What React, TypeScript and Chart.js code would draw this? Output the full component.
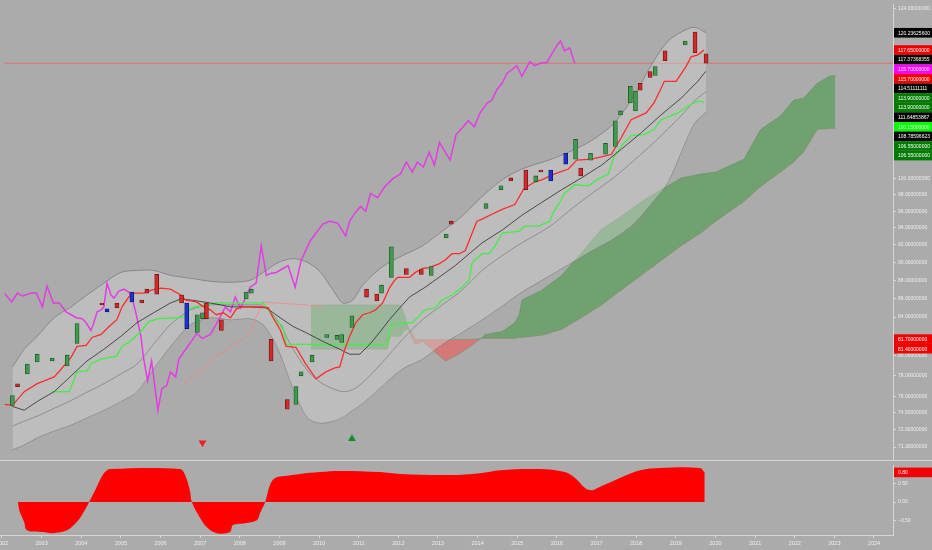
import React, { useEffect, useRef } from 'react';
import { Chart, registerables } from 'chart.js';

Chart.register(...registerables);

const BG = '#ababab';
const FONT = 'Liberation Sans';
Chart.defaults.font.family = FONT;

const X_MIN = 2001.95;
const X_MAX = 2024.48;
const PRICE_MIN = 70.1;
const PRICE_MAX = 124.6;

const yearTicks = [2002, 2003, 2004, 2005, 2006, 2007, 2008, 2009, 2010, 2011, 2012, 2013, 2014, 2015, 2016, 2017, 2018, 2019, 2020, 2021, 2022, 2023, 2024];
const priceTicks = [124, 100, 98, 96, 94, 92, 90, 88, 86, 84, 80, 78, 76, 74.5, 72.9, 71.3];
const oscTicks = [0.5, 0, -0.5];

// Candles
const candleX = [2002.15, 2002.28, 2002.53, 2002.78, 2003.16, 2003.54, 2003.79, 2004.42, 2004.55, 2004.80, 2005.18, 2005.43, 2005.56, 2005.81, 2006.44, 2006.57, 2006.84, 2006.97, 2007.07, 2007.45, 2008.08, 2008.21, 2008.71, 2009.12, 2009.34, 2009.47, 2009.75, 2010.12, 2010.38, 2010.50, 2010.76, 2011.13, 2011.39, 2011.51, 2011.76, 2012.14, 2012.52, 2012.77, 2013.15, 2013.28, 2014.16, 2014.54, 2014.79, 2015.17, 2015.42, 2015.55, 2015.80, 2016.18, 2016.43, 2016.56, 2016.81, 2017.19, 2017.44, 2017.57, 2017.82, 2017.95, 2018.07, 2018.32, 2018.45, 2018.70, 2019.21, 2019.46, 2019.74];
const candleOpen = [75.15, 77.23, 78.19, 79.37, 79.47, 78.97, 81.26, 85.51, 84.88, 85.51, 86.69, 85.83, 87.01, 88.65, 86.37, 85.51, 82.38, 83.83, 85.51, 83.72, 85.94, 86.58, 81.67, 75.71, 75.24, 78.00, 79.37, 81.87, 81.67, 81.36, 82.90, 87.01, 86.47, 86.58, 88.32, 89.31, 89.20, 88.54, 92.82, 94.80, 96.34, 98.65, 100.12, 101.12, 99.63, 101.12, 101.12, 103.28, 102.51, 101.37, 102.39, 103.15, 104.18, 108.41, 110.04, 108.95, 112.81, 114.50, 113.93, 117.53, 118.41, 120.34, 117.09];
const candleClose = [76.08, 76.94, 79.17, 80.16, 79.77, 80.06, 83.31, 85.30, 84.56, 84.98, 85.62, 85.51, 86.58, 86.47, 85.51, 82.79, 84.25, 84.46, 83.83, 82.59, 86.69, 87.01, 79.47, 74.78, 76.94, 78.39, 80.06, 82.18, 82.08, 82.18, 84.14, 86.15, 85.72, 87.45, 91.79, 88.65, 88.65, 89.53, 93.28, 94.45, 96.94, 99.13, 99.75, 98.65, 100.37, 100.87, 99.75, 101.88, 105.10, 100.37, 103.28, 104.57, 107.61, 108.95, 112.39, 111.69, 111.83, 113.65, 115.21, 116.07, 118.99, 117.24, 115.70];
const candleKind = ['g', 'r', 'g', 'g', 'g', 'g', 'g', 'r', 'b', 'r', 'b', 'r', 'r', 'r', 'r', 'b', 'g', 'g', 'r', 'r', 'g', 'g', 'r', 'r', 'g', 'g', 'g', 'g', 'g', 'g', 'g', 'r', 'r', 'g', 'g', 'r', 'r', 'g', 'g', 'r', 'g', 'g', 'r', 'r', 'g', 'r', 'b', 'b', 'g', 'r', 'g', 'g', 'g', 'g', 'g', 'g', 'r', 'r', 'g', 'r', 'g', 'r', 'r'];

// Lagging line (magenta)
const magentaX = [2001.95, 2002.13, 2002.28, 2002.40, 2002.63, 2002.76, 2002.91, 2003.03, 2003.19, 2003.34, 2003.51, 2003.64, 2003.77, 2003.92, 2004.02, 2004.14, 2004.20, 2004.30, 2004.40, 2004.47, 2004.55, 2004.65, 2004.73, 2004.85, 2004.98, 2005.10, 2005.18, 2005.28, 2005.41, 2005.48, 2005.58, 2005.68, 2005.84, 2005.94, 2006.06, 2006.16, 2006.29, 2006.37, 2006.49, 2006.69, 2006.82, 2006.97, 2007.17, 2007.30, 2007.42, 2007.55, 2007.68, 2007.80, 2007.93, 2008.05, 2008.18, 2008.33, 2008.46, 2008.59, 2008.69, 2008.84, 2009.01, 2009.14, 2009.32, 2009.47, 2009.70, 2009.85, 2010.02, 2010.20, 2010.40, 2010.60, 2010.70, 2010.83, 2010.98, 2011.11, 2011.23, 2011.41, 2011.59, 2011.79, 2011.99, 2012.14, 2012.29, 2012.42, 2012.57, 2012.72, 2012.85, 2012.98, 2013.13, 2013.25, 2013.40, 2013.56, 2013.71, 2013.86, 2014.01, 2014.19, 2014.31, 2014.44, 2014.57, 2014.69, 2014.82, 2014.94, 2015.07, 2015.27, 2015.40, 2015.57, 2015.70, 2015.83, 2015.95, 2016.05, 2016.15, 2016.28, 2016.41];
const magentaY = [86.58, 85.62, 86.58, 86.26, 86.58, 86.58, 85.09, 87.34, 85.51, 85.51, 84.56, 84.25, 83.93, 83.83, 83.41, 82.59, 83.21, 84.56, 84.77, 85.09, 87.67, 86.37, 86.04, 86.80, 87.01, 86.69, 86.15, 84.46, 81.98, 79.67, 77.52, 79.47, 74.69, 76.75, 77.04, 78.39, 77.90, 79.67, 80.36, 81.47, 82.28, 81.77, 82.18, 83.11, 84.04, 85.09, 84.56, 86.15, 84.98, 85.94, 87.23, 87.67, 91.90, 88.54, 88.76, 88.87, 89.31, 89.64, 87.23, 90.20, 92.47, 93.40, 94.45, 94.80, 94.57, 93.05, 94.80, 95.74, 96.58, 95.98, 98.16, 97.67, 99.01, 100.00, 100.62, 102.13, 100.87, 102.13, 101.50, 103.41, 101.75, 104.70, 103.41, 102.39, 105.75, 106.67, 107.61, 106.80, 108.68, 110.04, 110.45, 111.97, 112.81, 114.22, 114.79, 115.36, 113.79, 115.93, 115.36, 115.78, 115.78, 117.09, 118.26, 119.00, 117.53, 117.97, 115.70];

// Fast line (red)
const redX = [2001.95, 2002.15, 2002.45, 2002.78, 2003.21, 2003.39, 2003.64, 2003.79, 2004.02, 2004.17, 2004.40, 2004.60, 2004.80, 2004.93, 2005.10, 2005.23, 2005.48, 2005.68, 2005.91, 2006.16, 2006.42, 2006.54, 2006.82, 2007.00, 2007.17, 2007.32, 2007.50, 2007.68, 2007.83, 2008.00, 2008.51, 2008.64, 2008.76, 2008.94, 2009.09, 2009.34, 2009.59, 2009.85, 2010.10, 2010.33, 2010.45, 2010.58, 2010.70, 2010.86, 2011.03, 2011.21, 2011.36, 2011.54, 2011.71, 2011.84, 2011.92, 2012.22, 2012.37, 2012.55, 2012.72, 2012.98, 2013.13, 2013.30, 2013.48, 2013.63, 2013.73, 2013.86, 2013.93, 2014.06, 2014.31, 2014.57, 2014.89, 2015.12, 2015.40, 2015.57, 2015.90, 2016.25, 2016.46, 2016.84, 2017.16, 2017.34, 2017.59, 2017.84, 2018.22, 2018.42, 2018.60, 2018.68, 2018.98, 2019.23, 2019.36, 2019.53, 2019.69];
const redY = [75.24, 75.15, 76.46, 77.23, 77.90, 78.68, 79.87, 80.96, 81.06, 81.87, 82.18, 83.00, 83.72, 85.09, 86.15, 86.58, 86.58, 86.90, 87.12, 87.01, 86.37, 85.83, 85.62, 85.09, 84.77, 84.25, 84.46, 83.93, 84.88, 85.09, 85.09, 84.98, 83.93, 82.69, 80.96, 80.86, 79.17, 77.71, 78.39, 78.78, 78.88, 80.66, 81.98, 83.41, 84.25, 84.46, 84.77, 85.51, 87.12, 87.99, 88.32, 88.32, 88.87, 89.31, 89.42, 89.86, 90.31, 90.99, 90.99, 91.33, 92.47, 93.98, 94.80, 95.04, 95.63, 96.22, 96.82, 98.77, 99.63, 99.88, 100.62, 101.25, 102.39, 102.51, 102.90, 103.15, 105.36, 107.74, 108.68, 110.04, 112.11, 113.09, 113.09, 115.21, 116.65, 116.94, 117.65];

// Middle average (black)
const blackX = [2002.15, 2002.45, 2002.78, 2003.21, 2003.64, 2004.04, 2004.47, 2004.90, 2005.31, 2005.73, 2006.16, 2006.42, 2006.67, 2007.17, 2007.68, 2008.18, 2008.59, 2008.94, 2009.27, 2009.59, 2010.02, 2010.45, 2010.70, 2010.96, 2011.21, 2011.46, 2011.71, 2011.97, 2012.22, 2012.62, 2013.38, 2014.06, 2014.57, 2015.07, 2015.57, 2016.08, 2016.58, 2017.09, 2017.59, 2018.10, 2018.60, 2019.11, 2019.53, 2019.73];
const blackY = [75.05, 74.69, 75.52, 76.46, 78.00, 79.47, 80.66, 81.98, 83.41, 84.46, 85.51, 85.94, 85.83, 85.51, 85.09, 85.09, 84.98, 83.93, 83.00, 82.38, 81.47, 80.66, 80.16, 80.16, 81.16, 82.38, 83.72, 84.98, 86.15, 87.23, 89.64, 92.24, 93.75, 95.51, 97.06, 98.65, 100.12, 101.75, 103.80, 106.01, 108.41, 110.72, 113.09, 114.51];

// Slow line (bright green)
const greenX = [2003.16, 2003.59, 2003.72, 2003.79, 2004.04, 2004.14, 2004.40, 2004.80, 2004.93, 2005.10, 2005.41, 2005.61, 2005.86, 2006.31, 2006.54, 2006.67, 2007.32, 2007.83, 2008.51, 2008.64, 2008.81, 2009.01, 2009.09, 2011.66, 2011.74, 2012.29, 2012.62, 2012.87, 2013.05, 2013.30, 2013.55, 2013.73, 2013.81, 2014.06, 2014.24, 2014.39, 2014.57, 2015.00, 2015.14, 2015.50, 2015.77, 2015.88, 2016.00, 2016.15, 2016.41, 2016.76, 2017.01, 2017.26, 2017.42, 2017.67, 2017.84, 2018.17, 2018.42, 2018.60, 2019.03, 2019.28, 2019.53, 2019.69];
const greenY = [76.46, 76.46, 77.71, 78.39, 78.48, 79.17, 79.67, 79.97, 80.96, 81.36, 82.49, 83.52, 83.83, 83.93, 84.04, 84.98, 85.51, 85.51, 85.51, 84.77, 83.72, 83.00, 81.16, 81.16, 83.21, 83.41, 84.77, 84.98, 85.83, 86.37, 87.23, 87.99, 89.98, 90.99, 90.99, 91.90, 93.40, 93.63, 94.21, 94.21, 94.80, 95.98, 96.82, 98.16, 99.26, 99.13, 100.00, 100.62, 103.02, 104.70, 105.62, 105.75, 106.41, 107.74, 108.68, 109.63, 110.31, 110.15];

// Thin pink line
const pinkX = [2006.49, 2006.74, 2007.00, 2007.25, 2007.50, 2007.75, 2008.00, 2008.18, 2008.33, 2008.51, 2008.84, 2009.59, 2010.02];
const pinkY = [77.23, 77.90, 78.68, 79.87, 80.36, 81.16, 81.67, 82.38, 83.93, 85.62, 85.51, 85.30, 85.09];

// Envelope bands
const bandX = [2002.15, 2002.45, 2002.78, 2003.21, 2003.64, 2003.97, 2004.47, 2004.90, 2005.31, 2005.73, 2006.16, 2006.67, 2007.17, 2007.68, 2008.18, 2008.51, 2008.89, 2009.27, 2009.64, 2009.97, 2010.28, 2010.53, 2010.78, 2011.03, 2011.54, 2012.04, 2012.55, 2013.05, 2013.55, 2014.06, 2014.57, 2015.07, 2015.75, 2016.25, 2016.84, 2017.42, 2017.92, 2018.42, 2018.78, 2019.11, 2019.44, 2019.74];
const bandUpper = [78.88, 80.66, 81.98, 83.93, 85.09, 86.15, 87.67, 88.87, 89.09, 89.09, 88.54, 88.21, 87.88, 87.77, 87.99, 88.87, 89.98, 90.43, 89.98, 88.87, 86.90, 85.51, 85.83, 87.45, 89.53, 90.77, 91.90, 93.63, 95.39, 97.79, 99.88, 101.25, 102.39, 103.41, 104.96, 107.34, 111.13, 116.07, 119.00, 120.34, 121.08, 120.24];
const bandLower = [71.06, 71.50, 72.13, 72.76, 73.31, 73.86, 74.69, 75.52, 76.46, 78.68, 80.96, 83.21, 83.93, 83.72, 83.83, 83.21, 80.66, 76.75, 73.95, 73.49, 73.67, 74.04, 74.69, 75.33, 77.04, 78.68, 79.67, 81.16, 82.38, 83.72, 85.19, 86.69, 88.43, 89.75, 91.33, 92.82, 94.57, 97.30, 99.63, 103.41, 107.21, 108.79];
const bandInner = [73.21, 73.67, 74.13, 74.87, 75.61, 76.27, 77.23, 78.19, 79.17, 81.16, 83.21, 84.77, 85.30, 85.30, 85.30, 85.19, 83.52, 80.66, 78.48, 77.33, 76.75, 76.46, 76.65, 77.33, 79.37, 81.67, 83.72, 85.30, 86.90, 89.09, 90.77, 92.24, 94.09, 95.98, 98.16, 100.25, 102.39, 104.70, 106.54, 108.28, 110.31, 111.65];

// Cloud (leading spans)
const cloudX = [2009.72, 2011.66, 2011.74, 2011.99, 2012.12, 2012.24, 2012.37, 2012.55, 2013.13, 2013.38, 2013.73, 2014.06, 2014.14, 2014.57, 2014.89, 2015.00, 2015.07, 2015.57, 2016.08, 2016.58, 2017.09, 2017.59, 2018.10, 2018.60, 2019.11, 2019.61, 2019.99, 2020.70, 2021.12, 2021.63, 2021.96, 2022.21, 2022.56, 2022.89, 2023.02];
const spanA = [85.30, 85.30, 85.30, 85.30, 83.93, 82.18, 81.16, 81.47, 79.47, 79.97, 80.86, 81.87, 82.18, 82.49, 83.41, 84.25, 85.83, 86.90, 88.54, 91.10, 93.86, 95.39, 97.18, 98.65, 100.12, 100.62, 100.87, 102.51, 106.41, 108.28, 110.45, 110.72, 112.81, 113.90, 113.90];
const spanB = [80.66, 80.66, 81.98, 81.98, 82.69, 82.69, 81.67, 81.67, 81.67, 81.67, 81.67, 81.77, 81.77, 81.77, 81.77, 81.87, 81.87, 82.08, 82.69, 83.93, 85.30, 86.90, 88.54, 90.20, 91.90, 93.40, 94.80, 97.18, 99.01, 100.87, 102.13, 103.41, 106.41, 106.55, 106.55];

const hLineValue = 115.7;

// Signals
const sellX = [2006.97];
const sellY = [71.68];
const buyX = [2010.76];
const buyY = [72.04];

// Oscillator (lower pane)
const oscX = [2002.40, 2002.45, 2002.56, 2002.63, 2003.03, 2003.29, 2003.64, 2003.84, 2003.97, 2004.12, 2004.22, 2004.35, 2004.47, 2004.60, 2004.73, 2006.49, 2006.62, 2006.74, 2006.79, 2007.00, 2007.17, 2007.42, 2007.75, 2007.83, 2008.13, 2008.43, 2008.51, 2008.64, 2008.76, 2008.89, 2009.14, 2009.52, 2010.02, 2010.53, 2011.54, 2012.04, 2013.30, 2014.06, 2014.57, 2015.57, 2016.20, 2016.46, 2016.71, 2016.89, 2017.09, 2017.59, 2018.10, 2018.60, 2019.61, 2019.73];
const oscY = [0, -0.27, -0.54, -0.76, -0.81, -0.84, -0.76, -0.59, -0.43, -0.16, 0.05, 0.32, 0.59, 0.81, 0.89, 0.89, 0.73, 0.32, 0, -0.43, -0.68, -0.84, -0.81, -0.62, -0.57, -0.49, -0.30, 0, 0.46, 0.65, 0.70, 0.76, 0.81, 0.84, 0.81, 0.76, 0.73, 0.78, 0.86, 0.89, 0.81, 0.65, 0.38, 0.32, 0.41, 0.65, 0.86, 0.92, 0.92, 0.80];

// Right-axis value labels
const priceLabelValues = [120.236256, 117.65, 117.37368355, 115.7, 115.7, 114.51111111, 113.9, 113.9, 111.64853867, 110.15, 108.78596623, 106.55, 106.55, 81.7, 81.4];
const priceLabelColors = ['#000000', '#f00000', '#000000', '#ff00ff', '#f00000', '#000000', '#007a00', '#007a00', '#000000', '#00ff00', '#000000', '#007a00', '#007a00', '#f00000', '#f00000'];
const oscLabelValues = [0.8];
const oscLabelColors = ['#f00000'];

const zip = (xs: number[], ys: number[]) => xs.map((x, i) => ({ x, y: ys[i] }));

const kindFill: Record<string, string> = { g: '#3f9c4c', r: '#d42a2a', b: '#1f30d2' };
const kindBorder: Record<string, string> = { g: '#1d5526', r: '#6b1212', b: '#0e1770' };

const bgPlugin = {
  id: 'bgFill',
  beforeDraw(chart: any) {
    const { ctx, width, height } = chart;
    ctx.save();
    ctx.fillStyle = BG;
    ctx.fillRect(0, 0, width, height);
    ctx.restore();
  },
};

const makeLabelPlugin = (id: string, scaleId: string, values: number[], colors: string[], digits: number, lineAt: 'top' | null) => ({
  id,
  afterDraw(chart: any) {
    const s = chart.scales[scaleId];
    const ctx = chart.ctx;
    ctx.save();
    ctx.strokeStyle = '#d6d6d6';
    ctx.lineWidth = 1;
    if (lineAt === 'top') {
      const yb = Math.round(chart.chartArea.bottom) - 0.5;
      ctx.beginPath();
      ctx.moveTo(0, yb);
      ctx.lineTo(chart.width, yb);
      ctx.stroke();
    }
    const h = 9.6;
    const items = values
      .map((v, i) => ({ v, c: colors[i], y: s.getPixelForValue(v) }))
      .sort((a, b) => a.y - b.y);
    let prev = -1e9;
    items.forEach((it) => {
      if (it.y < prev + h) it.y = prev + h;
      prev = it.y;
    });
    ctx.font = `5px "${FONT}"`;
    ctx.textBaseline = 'middle';
    ctx.textAlign = 'left';
    items.forEach((it) => {
      ctx.fillStyle = it.c;
      ctx.fillRect(s.left + 1, it.y - h / 2, chart.width - s.left - 1, h);
      ctx.fillStyle = '#ffffff';
      ctx.fillText(it.v.toFixed(digits), s.left + 5, it.y + 0.5);
    });
    ctx.restore();
  },
});

const fitRight = (s: any) => {
  s.width = 39;
  s.paddingTop = 0;
  s.paddingBottom = 0;
  s.paddingLeft = 0;
  s.paddingRight = 0;
};

export default function App() {
  const topRef = useRef<HTMLCanvasElement>(null);
  const botRef = useRef<HTMLCanvasElement>(null);

  useEffect(() => {
    const lineBase = { type: 'line', pointRadius: 0, fill: false };
    const top = new Chart(topRef.current as HTMLCanvasElement, {
      type: 'line',
      data: {
        datasets: [
          {
            type: 'bar',
            data: candleX.map((x, i) => ({ x, y: [candleOpen[i], candleClose[i]] })),
            backgroundColor: candleKind.map((k) => kindFill[k]),
            borderColor: candleKind.map((k) => kindBorder[k]),
            borderWidth: 0.8,
            borderSkipped: false,
            barThickness: 4,
            order: 1,
          },
          { ...lineBase, data: zip(redX, redY), borderColor: '#ff2b2b', borderWidth: 1.3, order: 2 },
          { ...lineBase, data: zip(blackX, blackY), borderColor: '#2b2b2b', borderWidth: 0.8, order: 3 },
          { ...lineBase, data: zip(greenX, greenY), borderColor: '#44ee44', borderWidth: 1.3, order: 4 },
          { ...lineBase, data: zip(magentaX, magentaY), borderColor: '#e23de2', borderWidth: 1.5, order: 5 },
          { ...lineBase, data: zip(pinkX, pinkY), borderColor: 'rgba(255,125,125,0.85)', borderWidth: 0.8, order: 6 },
          { ...lineBase, data: zip(bandX, bandInner), borderColor: '#7a7a7a', borderWidth: 0.7, tension: 0.3, order: 7 },
          {
            ...lineBase,
            data: zip(bandX, bandUpper),
            borderColor: '#767676',
            borderWidth: 0.7,
            tension: 0.3,
            fill: { target: 8, above: 'rgba(215,215,215,0.42)', below: 'rgba(215,215,215,0.42)' },
            order: 8,
          },
          { ...lineBase, data: zip(bandX, bandLower), borderColor: '#767676', borderWidth: 0.7, tension: 0.3, order: 8 },
          {
            ...lineBase,
            data: zip(cloudX, spanA),
            borderColor: 'rgba(60,130,60,0.5)',
            borderWidth: 0.6,
            fill: { target: 10, above: 'rgba(56,150,56,0.5)', below: 'rgba(255,70,70,0.5)' },
            order: 9,
          },
          { ...lineBase, data: zip(cloudX, spanB), borderColor: 'rgba(60,130,60,0.4)', borderWidth: 0.6, order: 9 },
          {
            ...lineBase,
            data: [{ x: X_MIN, y: hLineValue }, { x: X_MAX, y: hLineValue }],
            borderColor: 'rgba(235,95,95,0.75)',
            borderWidth: 1,
            order: 10,
          },
          {
            type: 'line',
            showLine: false,
            data: zip(sellX, sellY),
            pointStyle: 'triangle',
            pointRadius: 4.5,
            pointRotation: 180,
            pointBackgroundColor: '#f02020',
            pointBorderWidth: 0,
            order: 0,
          },
          {
            type: 'line',
            showLine: false,
            data: zip(buyX, buyY),
            pointStyle: 'triangle',
            pointRadius: 4.5,
            pointBackgroundColor: '#0f8f2a',
            pointBorderWidth: 0,
            order: 0,
          },
        ] as any,
      },
      options: {
        animation: false,
        responsive: false,
        maintainAspectRatio: false,
        events: [],
        layout: { padding: 0 },
        plugins: { legend: { display: false }, tooltip: { enabled: false } },
        scales: {
          x: { type: 'linear', min: X_MIN, max: X_MAX, display: false, offset: false },
          y: {
            type: 'logarithmic',
            position: 'right',
            min: PRICE_MIN,
            max: PRICE_MAX,
            afterBuildTicks: (s: any) => {
              s.ticks = priceTicks.map((v) => ({ value: v }));
            },
            afterFit: fitRight,
            ticks: {
              autoSkip: false,
              color: '#eeeeee',
              font: { size: 5, family: FONT },
              padding: 2,
              callback: (v: any) => Number(v).toFixed(8),
            },
            grid: { drawOnChartArea: false, drawTicks: true, tickLength: 3, color: '#d6d6d6' },
            border: { display: true, color: '#d6d6d6' },
          },
        },
      } as any,
      plugins: [bgPlugin, makeLabelPlugin('priceLabels', 'y', priceLabelValues, priceLabelColors, 8, 'top')],
    });

    const bot = new Chart(botRef.current as HTMLCanvasElement, {
      type: 'line',
      data: {
        datasets: [
          {
            data: zip(oscX, oscY),
            borderColor: '#ff0000',
            borderWidth: 0,
            pointRadius: 0,
            tension: 0.35,
            fill: { target: 'origin', above: '#ff0000', below: '#ff0000' },
          },
        ] as any,
      },
      options: {
        animation: false,
        responsive: false,
        maintainAspectRatio: false,
        events: [],
        layout: { padding: 0 },
        plugins: { legend: { display: false }, tooltip: { enabled: false } },
        scales: {
          x: {
            type: 'linear',
            min: X_MIN,
            max: X_MAX,
            offset: false,
            afterBuildTicks: (s: any) => {
              s.ticks = yearTicks.map((v) => ({ value: v }));
            },
            afterFit: (s: any) => {
              s.height = 15;
              s.paddingLeft = 0;
              s.paddingRight = 0;
            },
            ticks: {
              autoSkip: false,
              maxRotation: 0,
              color: '#eeeeee',
              font: { size: 5.5, family: FONT },
              padding: 2,
              callback: (v: any) => String(v),
            },
            grid: { drawOnChartArea: false, drawTicks: true, tickLength: 3, color: '#d6d6d6' },
            border: { display: true, color: '#d6d6d6' },
          },
          y: {
            type: 'linear',
            position: 'right',
            min: -0.89,
            max: 1.0,
            afterBuildTicks: (s: any) => {
              s.ticks = oscTicks.map((v) => ({ value: v }));
            },
            afterFit: fitRight,
            ticks: {
              autoSkip: false,
              color: '#eeeeee',
              font: { size: 5, family: FONT },
              padding: 2,
              callback: (v: any) => (Number(v) < 0 ? '\u2212' + Math.abs(Number(v)).toFixed(2) : Number(v).toFixed(2)),
            },
            grid: { drawOnChartArea: false, drawTicks: true, tickLength: 3, color: '#d6d6d6' },
            border: { display: true, color: '#d6d6d6' },
          },
        },
      } as any,
      plugins: [bgPlugin, makeLabelPlugin('oscLabels', 'y', oscLabelValues, oscLabelColors, 2, null)],
    });

    return () => {
      top.destroy();
      bot.destroy();
    };
  }, []);

  return (
    <div style={{ position: 'fixed', left: 0, top: 0, width: 932, height: 550, background: BG }}>
      <canvas ref={topRef} width={932} height={465} style={{ display: 'block', width: 932, height: 465 }} />
      <canvas ref={botRef} width={932} height={85} style={{ display: 'block', width: 932, height: 85 }} />
    </div>
  );
}
